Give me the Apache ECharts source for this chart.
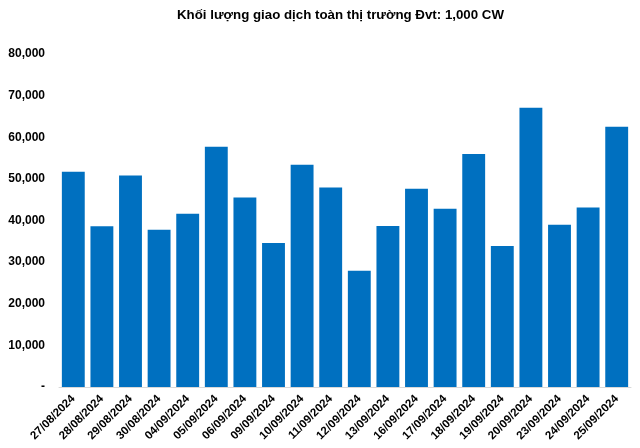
<!DOCTYPE html>
<html><head><meta charset="utf-8">
<script src="https://cdn.jsdelivr.net/npm/echarts@6/dist/echarts.min.js"></script>
<style>html,body{margin:0;padding:0;background:#fff}#c{width:640px;height:448px}</style>
</head><body><div id="c"></div>
<script>
const title = 'Khối lượng giao dịch toàn thị trường Đvt: 1,000 CW';
const categories = ['27/08/2024','28/08/2024','29/08/2024','30/08/2024','04/09/2024','05/09/2024','06/09/2024','09/09/2024','10/09/2024','11/09/2024','12/09/2024','13/09/2024','16/09/2024','17/09/2024','18/09/2024','19/09/2024','20/09/2024','23/09/2024','24/09/2024','25/09/2024'];
const values = [51700,38600,50800,37800,41600,57700,45500,34600,53400,47900,27900,38700,47600,42800,56000,33900,67100,39000,43100,62500];
const yTicks = [0,10000,20000,30000,40000,50000,60000,70000,80000];

const chart = echarts.init(document.getElementById('c'));
chart.setOption({
  animation:false,
  title:{text:title,left:172,top:4,textStyle:{fontFamily:'Liberation Sans',fontSize:13.3,fontWeight:'bold',color:'#000'}},
  grid:{left:59,right:9,top:54,bottom:61},
  xAxis:{type:'category',data:categories,
    axisLine:{lineStyle:{color:'#d9d9d9'}},axisTick:{show:false},
    axisLabel:{rotate:45,interval:0,fontFamily:'Liberation Sans',fontSize:11.5,fontWeight:'bold',color:'#000',margin:10}},
  yAxis:{type:'value',min:yTicks[0],max:yTicks[yTicks.length-1],interval:10000,
    splitLine:{show:false},axisLine:{show:false},axisTick:{show:false},
    axisLabel:{margin:14,fontFamily:'Liberation Sans',fontSize:12,fontWeight:'bold',color:'#000',
      formatter:v=>v===0?'-':v.toLocaleString('en-US')}},
  series:[{type:'bar',data:values,barCategoryGap:'20%',itemStyle:{color:'#0070C0'}}]
});
</script></body></html>
